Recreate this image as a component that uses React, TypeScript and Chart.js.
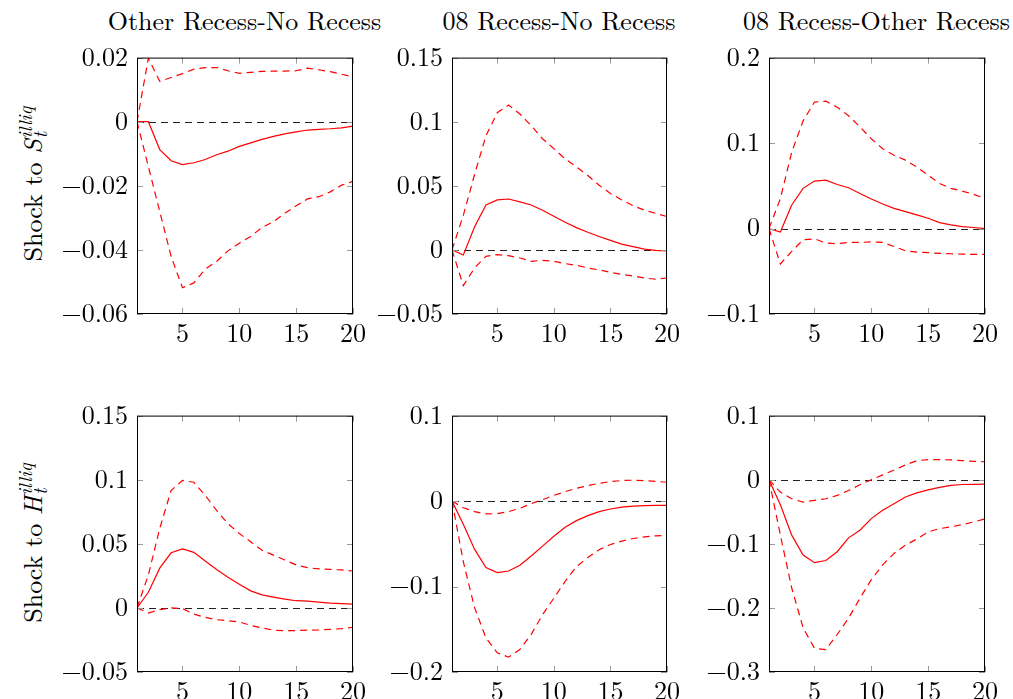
import React, { useEffect, useRef } from "react";
import { Chart, registerables } from "chart.js";

Chart.register(...registerables);

const FONT = '"Latin Modern Roman", "Liberation Serif", serif';
const FS = 26;

// horizon (periods)
const periods = [1, 2, 3, 4, 5, 6, 7, 8, 9, 10, 11, 12, 13, 14, 15, 16, 17, 18, 19, 20];
const xTickValues = [5, 10, 15, 20];
const ZERO_REF = 0;

const colTitles = ["Other Recess-No Recess", "08 Recess-No Recess", "08 Recess-Other Recess"];

// Row 1: shock to S_t^illiq
const sOtherNoMid = [0, 0, -0.0087, -0.0122, -0.0134, -0.0128, -0.0118, -0.0103, -0.0092, -0.0077, -0.0066, -0.0055, -0.0046, -0.0038, -0.0032, -0.0026, -0.0024, -0.0022, -0.0019, -0.0014];
const sOtherNoUp = [0, 0.0198, 0.0126, 0.0138, 0.015, 0.0164, 0.0169, 0.0169, 0.0159, 0.0151, 0.0154, 0.0157, 0.0158, 0.0158, 0.0159, 0.0167, 0.0162, 0.0156, 0.0148, 0.014];
const sOtherNoLo = [0, -0.014, -0.028, -0.042, -0.0518, -0.0503, -0.046, -0.0436, -0.0403, -0.0379, -0.0358, -0.033, -0.0312, -0.0286, -0.0262, -0.0241, -0.0234, -0.0219, -0.0198, -0.0186];

const sRecNoMid = [0, -0.004, 0.018, 0.035, 0.039, 0.0397, 0.0374, 0.035, 0.0309, 0.0262, 0.0216, 0.0174, 0.0138, 0.0105, 0.0074, 0.0045, 0.0025, 0.0006, -0.0004, -0.0008];
const sRecNoUp = [0, 0.027, 0.059, 0.089, 0.107, 0.113, 0.106, 0.097, 0.0867, 0.079, 0.071, 0.0647, 0.058, 0.0505, 0.044, 0.039, 0.0345, 0.031, 0.0285, 0.026];
const sRecNoLo = [0, -0.0278, -0.014, -0.005, -0.0037, -0.0045, -0.0063, -0.0089, -0.0081, -0.0089, -0.0107, -0.012, -0.0141, -0.0156, -0.0174, -0.0192, -0.0203, -0.0219, -0.0229, -0.0219];

const sRecOtherMid = [0, -0.004, 0.0275, 0.047, 0.0555, 0.0566, 0.0515, 0.0477, 0.041, 0.0345, 0.0287, 0.0236, 0.0198, 0.016, 0.012, 0.007, 0.0043, 0.0023, 0.0012, 0];
const sRecOtherUp = [0, 0.035, 0.0895, 0.126, 0.148, 0.149, 0.142, 0.132, 0.119, 0.105, 0.0934, 0.0857, 0.08, 0.072, 0.0624, 0.0527, 0.047, 0.0438, 0.04, 0.0353];
const sRecOtherLo = [0, -0.0415, -0.0267, -0.0132, -0.012, -0.017, -0.0178, -0.0163, -0.0163, -0.0155, -0.0163, -0.021, -0.026, -0.0275, -0.0283, -0.029, -0.0295, -0.03, -0.0302, -0.0302];

// Row 2: shock to H_t^illiq
const hOtherNoMid = [0, 0.0122, 0.031, 0.043, 0.046, 0.0433, 0.0366, 0.03, 0.0239, 0.0185, 0.0133, 0.0102, 0.0084, 0.0068, 0.0056, 0.0053, 0.0045, 0.0037, 0.0033, 0.003];
const hOtherNoUp = [0, 0.0257, 0.062, 0.0916, 0.0994, 0.098, 0.0878, 0.076, 0.0657, 0.058, 0.0516, 0.045, 0.0412, 0.0374, 0.0335, 0.0314, 0.0304, 0.03, 0.0296, 0.0288];
const hOtherNoLo = [0, -0.004, -0.0014, 0, -0.0005, -0.0048, -0.0074, -0.0092, -0.01, -0.011, -0.0136, -0.0157, -0.0174, -0.0177, -0.0177, -0.0174, -0.0172, -0.0167, -0.0162, -0.0151];

const hRecNoMid = [0, -0.027, -0.0566, -0.0779, -0.0837, -0.0818, -0.0752, -0.0643, -0.0527, -0.0411, -0.0306, -0.0229, -0.017, -0.0124, -0.0093, -0.007, -0.006, -0.0053, -0.005, -0.005];
const hRecNoUp = [0, -0.0078, -0.0124, -0.015, -0.0147, -0.0124, -0.0085, -0.003, 0.0016, 0.0066, 0.011, 0.015, 0.018, 0.0208, 0.0228, 0.024, 0.0244, 0.024, 0.023, 0.022];
const hRecNoLo = [0, -0.071, -0.125, -0.16, -0.1775, -0.1826, -0.1736, -0.156, -0.133, -0.1136, -0.094, -0.0767, -0.066, -0.057, -0.0508, -0.0469, -0.0438, -0.0419, -0.0407, -0.04];

const hRecOtherMid = [0, -0.039, -0.0865, -0.1175, -0.1295, -0.126, -0.1124, -0.0907, -0.0788, -0.0607, -0.0478, -0.0375, -0.027, -0.0205, -0.0158, -0.012, -0.009, -0.0075, -0.0072, -0.007];
const hRecOtherUp = [0, -0.0194, -0.0297, -0.035, -0.0322, -0.0297, -0.0245, -0.0168, -0.008, 0, 0.0075, 0.0152, 0.023, 0.0297, 0.0313, 0.0313, 0.031, 0.0297, 0.0287, 0.028];
const hRecOtherLo = [0, -0.0865, -0.169, -0.231, -0.263, -0.265, -0.2415, -0.216, -0.185, -0.156, -0.133, -0.115, -0.102, -0.0927, -0.0814, -0.0763, -0.0736, -0.07, -0.066, -0.061];

// y tick values and labels
const yTicksP1 = [-0.06, -0.04, -0.02, 0, 0.02];
const yLabelsP1 = ["\u22120.06", "\u22120.04", "\u22120.02", "0", "0.02"];
const yTicksP2 = [-0.05, 0, 0.05, 0.1, 0.15];
const yLabelsP2 = ["\u22120.05", "0", "0.05", "0.1", "0.15"];
const yTicksP3 = [-0.1, 0, 0.1, 0.2];
const yLabelsP3 = ["\u22120.1", "0", "0.1", "0.2"];
const yTicksP4 = [-0.05, 0, 0.05, 0.1, 0.15];
const yLabelsP4 = ["\u22120.05", "0", "0.05", "0.1", "0.15"];
const yTicksP5 = [-0.2, -0.1, 0, 0.1];
const yLabelsP5 = ["\u22120.2", "\u22120.1", "0", "0.1"];
const yTicksP6 = [-0.3, -0.2, -0.1, 0, 0.1];
const yLabelsP6 = ["\u22120.3", "\u22120.2", "\u22120.1", "0", "0.1"];

// layout (plot areas in page pixels)
const PL = 100; // y-axis width
const PT = 22;
const PR = 26;
const PB = 44;
const colLeft = [137, 452, 769];
const colRight = [352, 666, 984];
const rowTop = [55, 413];
const rowBottom = [313, 671];

type PanelDef = {
  row: number;
  col: number;
  yTicks: number[];
  yLabels: string[];
  mid: number[];
  up: number[];
  lo: number[];
};

const panels: PanelDef[] = [
  { row: 0, col: 0, yTicks: yTicksP1, yLabels: yLabelsP1, mid: sOtherNoMid, up: sOtherNoUp, lo: sOtherNoLo },
  { row: 0, col: 1, yTicks: yTicksP2, yLabels: yLabelsP2, mid: sRecNoMid, up: sRecNoUp, lo: sRecNoLo },
  { row: 0, col: 2, yTicks: yTicksP3, yLabels: yLabelsP3, mid: sRecOtherMid, up: sRecOtherUp, lo: sRecOtherLo },
  { row: 1, col: 0, yTicks: yTicksP4, yLabels: yLabelsP4, mid: hOtherNoMid, up: hOtherNoUp, lo: hOtherNoLo },
  { row: 1, col: 1, yTicks: yTicksP5, yLabels: yLabelsP5, mid: hRecNoMid, up: hRecNoUp, lo: hRecNoLo },
  { row: 1, col: 2, yTicks: yTicksP6, yLabels: yLabelsP6, mid: hRecOtherMid, up: hRecOtherUp, lo: hRecOtherLo },
];

const TICK_LEN = 6;
const DASH = [7, 5];

const framePlugin = {
  id: "pgfFrame",
  beforeDatasetsDraw(chart: any) {
    const { ctx, chartArea: a, scales } = chart;
    const y0 = Math.round(scales.y.getPixelForValue(ZERO_REF)) + 0.5;
    ctx.save();
    ctx.beginPath();
    ctx.rect(a.left, a.top, a.right - a.left, a.bottom - a.top);
    ctx.clip();
    ctx.strokeStyle = "#222";
    ctx.lineWidth = 1;
    ctx.setLineDash(DASH);
    ctx.beginPath();
    ctx.moveTo(a.left, y0);
    ctx.lineTo(a.right, y0);
    ctx.stroke();
    ctx.restore();
  },
  afterDatasetsDraw(chart: any) {
    const { ctx, chartArea: a, scales } = chart;
    ctx.save();
    ctx.strokeStyle = "#999";
    ctx.lineWidth = 1;
    ctx.setLineDash([]);
    ctx.beginPath();
    for (const t of scales.x.ticks) {
      const px = Math.round(scales.x.getPixelForValue(t.value)) + 0.5;
      ctx.moveTo(px, a.bottom);
      ctx.lineTo(px, a.bottom - TICK_LEN);
      ctx.moveTo(px, a.top);
      ctx.lineTo(px, a.top + TICK_LEN);
    }
    for (const t of scales.y.ticks) {
      const py = Math.round(scales.y.getPixelForValue(t.value)) + 0.5;
      ctx.moveTo(a.left, py);
      ctx.lineTo(a.left + TICK_LEN, py);
      ctx.moveTo(a.right, py);
      ctx.lineTo(a.right - TICK_LEN, py);
    }
    ctx.stroke();
    ctx.strokeStyle = "#000";
    ctx.strokeRect(a.left + 0.5, a.top + 0.5, a.right - a.left - 1, a.bottom - a.top - 1);
    ctx.restore();
  },
};

function Panel({ p }: { p: PanelDef }) {
  const ref = useRef<HTMLCanvasElement | null>(null);
  const plotW = colRight[p.col] - colLeft[p.col] + 1;
  const plotH = rowBottom[p.row] - rowTop[p.row] + 1;
  const left = colLeft[p.col] - PL;
  const top = rowTop[p.row] - PT;
  const width = plotW + PL + PR;
  const height = plotH + PT + PB;

  useEffect(() => {
    if (!ref.current) return;
    const yMin = p.yTicks[0];
    const yMax = p.yTicks[p.yTicks.length - 1];
    const red = "#ff0000";
    const chart = new Chart(ref.current, {
      type: "line",
      data: {
        labels: periods,
        datasets: [
          { data: p.mid, borderColor: red, borderWidth: 1.2, pointRadius: 0, tension: 0, fill: false },
          { data: p.up, borderColor: red, borderWidth: 1.2, borderDash: DASH, pointRadius: 0, tension: 0, fill: false },
          { data: p.lo, borderColor: red, borderWidth: 1.2, borderDash: DASH, pointRadius: 0, tension: 0, fill: false },
        ],
      },
      options: {
        animation: false,
        responsive: false,
        events: [],
        layout: { padding: { top: PT, right: PR, left: 0, bottom: 0 } },
        plugins: { legend: { display: false }, tooltip: { enabled: false }, title: { display: false } },
        scales: {
          x: {
            type: "linear",
            min: 1,
            max: 20,
            grid: { display: false, drawTicks: false },
            border: { display: false },
            afterBuildTicks: (s: any) => {
              s.ticks = xTickValues.map((v) => ({ value: v }));
            },
            afterFit: (s: any) => {
              s.height = PB;
            },
            ticks: {
              autoSkip: false,
              maxRotation: 0,
              padding: 4,
              color: "#000",
              font: { family: FONT, size: FS },
              callback: (v: any) => String(v),
            },
          },
          y: {
            type: "linear",
            min: yMin,
            max: yMax,
            grid: { display: false, drawTicks: false },
            border: { display: false },
            afterBuildTicks: (s: any) => {
              s.ticks = p.yTicks.map((v) => ({ value: v }));
            },
            afterFit: (s: any) => {
              s.width = PL;
            },
            ticks: {
              autoSkip: false,
              padding: 9,
              color: "#000",
              font: { family: FONT, size: FS },
              callback: (_v: any, i: number) => p.yLabels[i],
            },
          },
        },
      } as any,
      plugins: [framePlugin],
    });
    return () => chart.destroy();
  }, []);

  return (
    <div style={{ position: "absolute", left, top, width, height }}>
      <canvas ref={ref} width={width} height={height} style={{ width, height, display: "block" }} />
    </div>
  );
}

function YLabel({ letter, cy }: { letter: string; cy: number }) {
  return (
    <div
      style={{
        position: "absolute",
        left: 32,
        top: cy,
        transform: "translate(-50%, -50%) rotate(-90deg)",
        whiteSpace: "nowrap",
        fontFamily: FONT,
        fontSize: FS,
        lineHeight: "30px",
        color: "#000",
      }}
    >
      Shock to <span style={{ fontStyle: "italic" }}>{letter}</span>
      <span
        style={{
          display: "inline-flex",
          flexDirection: "column",
          fontStyle: "italic",
          fontSize: 19,
          lineHeight: "15px",
          verticalAlign: "10px",
          marginLeft: 1,
        }}
      >
        <span>illiq</span>
        <span>t</span>
      </span>
    </div>
  );
}

export default function App() {
  const centers = colLeft.map((l, i) => (l + colRight[i]) / 2);
  return (
    <div style={{ position: "fixed", left: 0, top: 0, width: 1013, height: 699, background: "#fff", overflow: "hidden" }}>
      {colTitles.map((t, i) => (
        <div
          key={t}
          style={{
            position: "absolute",
            left: centers[i],
            top: 7,
            transform: "translateX(-50%)",
            whiteSpace: "nowrap",
            fontFamily: FONT,
            fontSize: FS,
            lineHeight: "26px",
            color: "#000",
          }}
        >
          {t}
        </div>
      ))}
      <YLabel letter="S" cy={184} />
      <YLabel letter="H" cy={543} />
      {panels.map((p, i) => (
        <Panel key={i} p={p} />
      ))}
    </div>
  );
}
